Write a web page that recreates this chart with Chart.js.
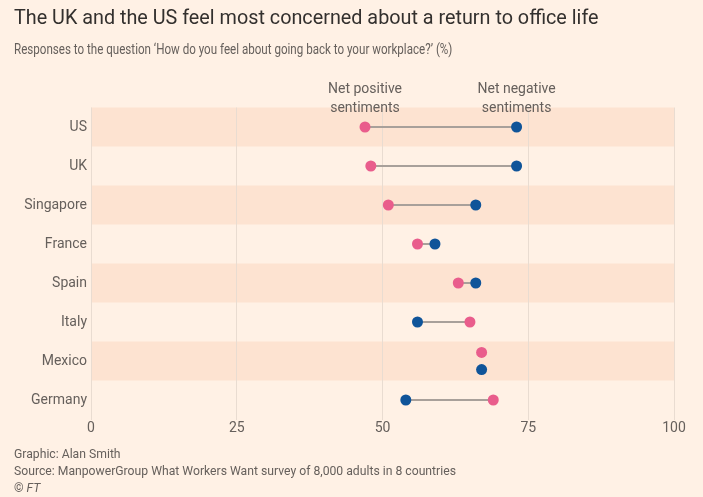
<!DOCTYPE html>
<html>
<head>
<meta charset="utf-8">
<script src="https://cdn.jsdelivr.net/npm/chart.js@4"></script>
<style>
  html, body { margin: 0; padding: 0; background: #fff1e5; }
  #wrap { position: relative; width: 703px; height: 497px; overflow: hidden; background: #fff1e5; }
  canvas { position: absolute; left: 0; top: 0; }
  .txt { position: absolute; left: 14px; white-space: nowrap; font-family: Roboto, "Noto Sans", sans-serif; transform-origin: 0 0; }
  #title { top: 6px; font-size: 19.8px; color: #33302e; }
  #subtitle { top: 41px; font-size: 14.5px; color: #66605c; transform: scaleX(0.80); }
  .foot { font-size: 12.2px; color: #66605c; }
</style>
</head>
<body>
<div id="wrap">
  <canvas id="c" width="703" height="497"></canvas>
  <div class="txt" id="title">The UK and the US feel most concerned about a return to office life</div>
  <div class="txt" id="subtitle">Responses to the question ‘How do you feel about going back to your workplace?’ (%)</div>
  <div class="txt foot" style="top:447px">Graphic: Alan Smith</div>
  <div class="txt foot" style="top:464px">Source: ManpowerGroup What Workers Want survey of 8,000 adults in 8 countries</div>
  <div class="txt foot" style="top:481px">© <i>FT</i></div>
</div>
<script>
const countries = ['US', 'UK', 'Singapore', 'France', 'Spain', 'Italy', 'Mexico', 'Germany'];
const netPositive = [47, 48, 51, 56, 63, 65, 67, 69];
const netNegative = [73, 73, 66, 59, 66, 56, 67, 54];
const xTicks = [0, 25, 50, 75, 100];
const seriesLabels = ['Net positive\nsentiments', 'Net negative\nsentiments'];

const PINK = '#e95d8c';
const BLUE = '#0f5499';
const GREY = '#a8a09a';
const TEXT = '#66605c';
const FONT = 'Roboto, "Noto Sans", sans-serif';

// small vertical nudge when two dots coincide
const nudge = (i, dir) => (netPositive[i] === netNegative[i] ? dir * 0.22 : 0);

const posData = countries.map((c, i) => ({ x: netPositive[i], y: i + nudge(i, -1) }));
const negData = countries.map((c, i) => ({ x: netNegative[i], y: i + nudge(i, 1) }));

const connectors = countries.map((c, i) => ({
  type: 'scatter',
  label: c + ' range',
  data: [{ x: netPositive[i], y: i }, { x: netNegative[i], y: i }],
  showLine: true,
  borderColor: GREY,
  borderWidth: 2,
  pointRadius: 0,
  order: 5
}));

const bandPlugin = {
  id: 'bands',
  beforeDraw(chart) {
    const { ctx, chartArea, scales } = chart;
    const y = scales.y;
    ctx.save();
    ctx.fillStyle = '#fde3d1';
    countries.forEach((c, i) => {
      if (i % 2 === 0) {
        const top = y.getPixelForValue(i - 0.5);
        const bot = y.getPixelForValue(i + 0.5);
        ctx.fillRect(chartArea.left, top, chartArea.right - chartArea.left, bot - top);
      }
    });
    ctx.restore();
  }
};

const labelPlugin = {
  id: 'seriesLabels',
  afterDraw(chart) {
    const { ctx, scales } = chart;
    const x = scales.x, y = scales.y;
    const top = y.getPixelForValue(-0.5);
    ctx.save();
    ctx.font = '14px ' + FONT;
    ctx.fillStyle = TEXT;
    ctx.textAlign = 'center';
    ctx.textBaseline = 'middle';
    const xs = [x.getPixelForValue(netPositive[0]), x.getPixelForValue(netNegative[0])];
    seriesLabels.forEach((lab, k) => {
      const lines = lab.split('\n');
      lines.forEach((ln, j) => {
        ctx.fillText(ln, xs[k], top - 18 + j * 19);
      });
    });
    ctx.restore();
  }
};

new Chart(document.getElementById('c'), {
  type: 'scatter',
  data: {
    datasets: [
      { label: 'Net positive', data: posData, backgroundColor: PINK, borderColor: PINK, pointRadius: 5.5, pointHoverRadius: 5.5, borderWidth: 0, order: 1 },
      { label: 'Net negative', data: negData, backgroundColor: BLUE, borderColor: BLUE, pointRadius: 5.5, pointHoverRadius: 5.5, borderWidth: 0, order: 1 },
      ...connectors
    ]
  },
  options: {
    responsive: false,
    devicePixelRatio: 1,
    animation: false,
    layout: { padding: { left: 0, right: 29, top: 107.5, bottom: 47.5 } },
    plugins: { legend: { display: false }, tooltip: { enabled: false } },
    scales: {
      x: {
        type: 'linear',
        min: 0,
        max: 100,
        afterBuildTicks(scale) { scale.ticks = xTicks.map(v => ({ value: v })); },
        afterFit(scale) { scale.height = 30; },
        grid: { color: '#e9dcd1', lineWidth: 1, drawTicks: false },
        border: { display: false },
        ticks: { color: TEXT, font: { family: FONT, size: 14 }, padding: 1 }
      },
      y: {
        type: 'linear',
        reverse: true,
        min: -0.5,
        max: countries.length - 0.5,
        afterBuildTicks(scale) { scale.ticks = countries.map((c, i) => ({ value: i })); },
        afterFit(scale) { scale.width = 91; },
        grid: { display: false, drawTicks: false },
        border: { display: false },
        ticks: {
          color: TEXT,
          font: { family: FONT, size: 14 },
          padding: 4,
          callback: (v) => countries[v]
        }
      }
    }
  },
  plugins: [bandPlugin, labelPlugin]
});
</script>
</body>
</html>
